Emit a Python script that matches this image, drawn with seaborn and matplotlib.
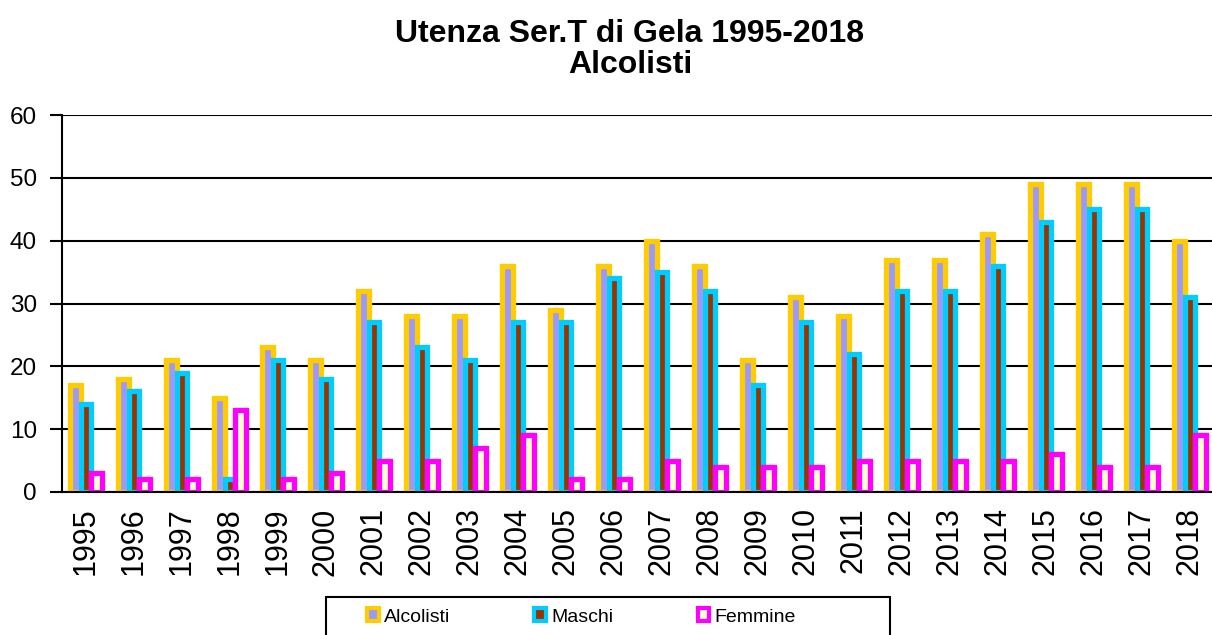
import numpy as np
import pandas as pd
import matplotlib
matplotlib.use("Agg")
import matplotlib.pyplot as plt
from matplotlib.patches import Patch, Rectangle
import seaborn as sns

# Dati #

anni = [str(a) for a in range(1995, 2019)]
alcolisti = [17, 18, 21, 15, 23, 21, 32, 28, 28, 36, 29, 36, 40, 36, 21, 31, 28, 37, 37, 41, 49, 49, 49, 40]
maschi = [14, 16, 19, 2, 21, 18, 27, 23, 21, 27, 27, 34, 35, 32, 17, 27, 22, 32, 32, 36, 43, 45, 45, 31]
femmine = [3, 2, 2, 13, 2, 3, 5, 5, 7, 9, 2, 2, 5, 4, 4, 4, 5, 5, 5, 5, 6, 4, 4, 9]
serie = ["Alcolisti", "Maschi", "Femmine"]

df = pd.DataFrame({"Anno": anni, "Alcolisti": alcolisti, "Maschi": maschi, "Femmine": femmine})
long = pd.melt(df, id_vars=["Anno"], var_name="Serie", value_name="Utenti")

# Colori stile Excel #

fills = ["#9999FF", "#993300", "#FFFFCC"]
edges = ["#FFCC00", "#00CCFF", "#FF00FF"]

sns.set_theme(style="white")
plt.rcParams["font.family"] = ["Liberation Sans", "DejaVu Sans"]
plt.rcParams.update({"text.color": "black", "xtick.color": "black",
                     "ytick.color": "black", "axes.labelcolor": "black"})

fig = plt.figure(figsize=(12.12, 6.35), dpi=100)
ax = fig.add_axes([62 / 1212, 1 - 492 / 635, 1152 / 1212, 377 / 635])
ax.set_axisbelow(True)

sns.barplot(data=long, x="Anno", y="Utenti", hue="Serie", hue_order=serie,
            palette=fills, saturation=1, width=0.66, dodge=True,
            errorbar=None, linewidth=3.8, legend=False, ax=ax)

for cont, ec in zip(ax.containers, edges):
    for bar in cont:
        bar.set_edgecolor(ec)
        bar.set_linewidth(3.8)

ax.set_ylim(0, 60)
ax.set_xlim(-0.5, len(anni) - 0.5)
ax.set_yticks(range(0, 61, 10))
ax.yaxis.grid(True, color="black", lw=1.5)
ax.xaxis.grid(False)
ax.set_xlabel("")
ax.set_ylabel("")

ax.set_xticks(range(len(anni)))
ax.set_xticklabels(anni, rotation=90, fontsize=22)
ax.set_xticks(np.arange(-0.5, len(anni), 1), minor=True)
ax.tick_params(axis="x", which="major", length=0, pad=11)
ax.tick_params(axis="x", which="minor", length=7, width=1.5, color="black", direction="out")
ax.tick_params(axis="y", length=9, width=1.5, color="black", direction="out", labelsize=17.5, pad=9, left=True)

for s in ["top", "right"]:
    ax.spines[s].set_visible(False)
for s in ["left", "bottom"]:
    ax.spines[s].set_color("black")
    ax.spines[s].set_linewidth(1.5)

# Titolo #

fig.text(630 / 1212, 1 - 42 / 635, "Utenza Ser.T di Gela 1995-2018", ha="center",
         va="baseline", fontsize=23, fontweight="bold")
fig.text(630 / 1212, 1 - 73 / 635, "Alcolisti", ha="center",
         va="baseline", fontsize=23, fontweight="bold")

# Legenda #

handles = [Patch(facecolor=f, edgecolor=e, linewidth=3) for f, e in zip(fills, edges)]
fig.legend(handles, serie, loc="center left", bbox_to_anchor=(367 / 1212, 1 - 617 / 635),
           ncol=3, frameon=False, fontsize=14, handlelength=0.6, handleheight=0.6,
           handletextpad=0.25, columnspacing=4.35, borderpad=0, borderaxespad=0)
fig.add_artist(Rectangle((326 / 1212, -0.05), 564 / 1212, 0.05 + 38 / 635,
                         transform=fig.transFigure, fill=False, lw=1.5, ec="black"))

fig.savefig("out.png", dpi=100)
